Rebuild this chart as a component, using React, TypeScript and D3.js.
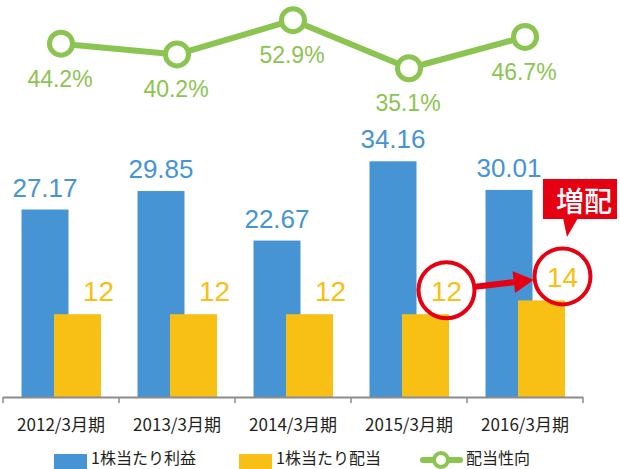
import * as d3 from "d3";

const years = ["2012/3月期", "2013/3月期", "2014/3月期", "2015/3月期", "2016/3月期"];
const eps = [27.17, 29.85, 22.67, 34.16, 30.01];
const dividend = [12, 12, 12, 12, 14];
const payout = [44.2, 40.2, 52.9, 35.1, 46.7];
const epsLabels = ["27.17", "29.85", "22.67", "34.16", "30.01"];
const payoutLabels = ["44.2%", "40.2%", "52.9%", "35.1%", "46.7%"];
const legendNames = ["1株当たり利益", "1株当たり配当", "配当性向"];

const BLUE = "#4694d3";
const YELLOW = "#f8bf14";
const GREEN = "#8cc451";
const RED = "#e50012";
const NUM_FONT = "'Liberation Sans', Arial, sans-serif";
const JP_FONT = "'Noto Sans CJK JP', sans-serif";

const App = () => {
  const width = 620;
  const height = 469;

  const x = d3.scaleBand().domain(years).range([3, 583]).padding(0);
  const cx = (i: number) => x(years[i])! + x.bandwidth() / 2;
  const y = d3.scaleLinear().domain([0, 40]).range([397, 121]);
  const yLine = d3.scaleLinear().domain([30, 60]).range([82, 1]);

  const barW = 47;
  const blueOff = -16;
  const yellowOff = 16.5;

  const line = d3
    .line<number>()
    .x((_, i) => cx(i))
    .y((d) => yLine(d));

  // highlighted dividend labels (2015 -> 2016)
  const lab = (i: number) => ({ x: cx(i) + yellowOff + 21, y: y(dividend[i]) - 24 });
  const c1 = lab(3);
  const c2 = lab(4);
  const r = 28;
  const ang = Math.atan2(c2.y - c1.y, c2.x - c1.x);
  const ux = Math.cos(ang);
  const uy = Math.sin(ang);
  const sx = c1.x + ux * (r + 1);
  const sy = c1.y + uy * (r + 1);
  const ex = c2.x - ux * (r + 1);
  const ey = c2.y - uy * (r + 1);
  const headLen = 20;
  const headW = 11;
  const bx = ex - ux * headLen;
  const by = ey - uy * headLen;

  const legendY = 457;

  return (
    <svg width={width} height={height} style={{ position: "absolute", left: 0, top: 0 }}>
      <rect width={width} height={height} fill="#fff" />

      {/* bars */}
      {eps.map((d, i) => (
        <rect key={"b" + i} x={cx(i) + blueOff - barW / 2} y={y(d)} width={barW} height={y(0) - y(d)} fill={BLUE} />
      ))}
      {dividend.map((d, i) => (
        <rect key={"y" + i} x={cx(i) + yellowOff - barW / 2} y={y(d)} width={barW} height={y(0) - y(d)} fill={YELLOW} />
      ))}

      {/* bar labels */}
      {eps.map((d, i) => (
        <text key={"bl" + i} x={cx(i) + blueOff} y={y(d) - 22} textAnchor="middle" dominantBaseline="central"
          fontFamily={NUM_FONT} fontSize={26} fill={BLUE}>{epsLabels[i]}</text>
      ))}
      {dividend.map((d, i) => (
        <text key={"yl" + i} x={cx(i) + yellowOff + 21} y={y(d) - 23} textAnchor="middle" dominantBaseline="central"
          fontFamily={NUM_FONT} fontSize={28} fill={YELLOW}>{d}</text>
      ))}

      {/* x axis */}
      <line x1={3} x2={583} y1={397.5} y2={397.5} stroke="#8c8c8c" strokeWidth={2} />
      {[...years.map((d) => x(d)!), 583].map((t, i) => (
        <line key={"t" + i} x1={t} x2={t} y1={397} y2={403} stroke="#8c8c8c" strokeWidth={1.5} />
      ))}
      {years.map((d, i) => (
        <text key={"xl" + i} x={cx(i)} y={423} textAnchor="middle" dominantBaseline="central"
          fontFamily={JP_FONT} fontSize={17} fill="#231f20">{d}</text>
      ))}

      {/* payout ratio line */}
      <path d={line(payout)!} fill="none" stroke={GREEN} strokeWidth={6} strokeLinejoin="round" />
      {payout.map((d, i) => (
        <circle key={"p" + i} cx={cx(i)} cy={yLine(d)} r={11.5} fill="#fff" stroke={GREEN} strokeWidth={5} />
      ))}
      {payout.map((d, i) => (
        <text key={"pl" + i} x={cx(i) - 1} y={yLine(d) + 35} textAnchor="middle" dominantBaseline="central"
          fontFamily={NUM_FONT} fontSize={23} fill={GREEN}>{payoutLabels[i]}</text>
      ))}

      {/* highlight annotation */}
      <circle cx={c1.x} cy={c1.y} r={r} fill="none" stroke={RED} strokeWidth={4} />
      <circle cx={c2.x} cy={c2.y} r={r} fill="none" stroke={RED} strokeWidth={4} />
      <line x1={sx} y1={sy} x2={bx} y2={by} stroke={RED} strokeWidth={6} />
      <polygon
        points={`${ex},${ey} ${bx - uy * headW},${by + ux * headW} ${bx + uy * headW},${by - ux * headW}`}
        fill={RED}
      />
      <rect x={543} y={179} width={74} height={40} fill={RED} />
      <polygon points="563,218 578,218 567,237" fill={RED} />
      <text x={584} y={200} textAnchor="middle" dominantBaseline="central" fontFamily={JP_FONT}
        fontWeight={500} fontSize={28} fill="#fff">増配</text>

      {/* legend */}
      <rect x={54} y={454} width={33} height={15} fill={BLUE} />
      <text x={91} y={legendY} dominantBaseline="central" fontFamily={JP_FONT} fontSize={16} fill="#231f20">{legendNames[0]}</text>
      <rect x={239} y={454} width={33} height={15} fill={YELLOW} />
      <text x={276} y={legendY} dominantBaseline="central" fontFamily={JP_FONT} fontSize={16} fill="#231f20">{legendNames[1]}</text>
      <line x1={423} x2={460} y1={460} y2={460} stroke={GREEN} strokeWidth={6} strokeLinecap="round" />
      <circle cx={441} cy={460} r={7} fill="#fff" stroke={GREEN} strokeWidth={4} />
      <text x={466} y={legendY} dominantBaseline="central" fontFamily={JP_FONT} fontSize={16} fill="#231f20">{legendNames[2]}</text>
    </svg>
  );
};

export default App;
